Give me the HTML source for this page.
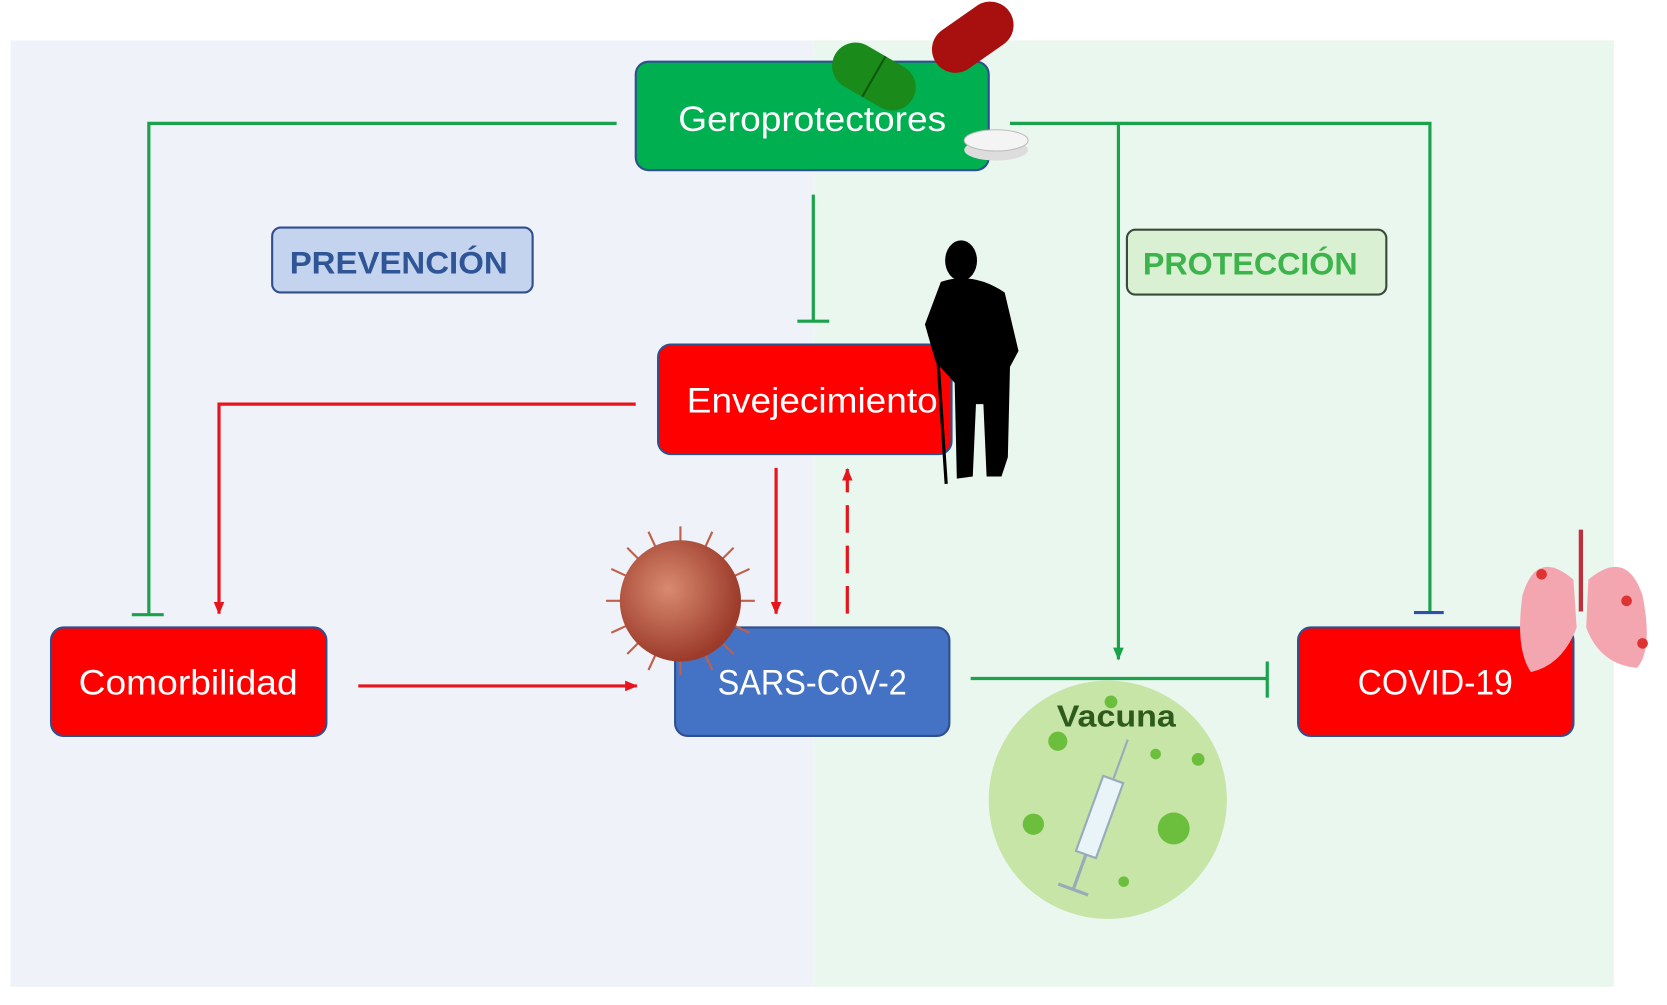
<!DOCTYPE html>
<html><head><meta charset="utf-8"><style>
html,body{margin:0;padding:0;background:#fff;}
svg{display:block;}
text{font-family:"Liberation Sans",sans-serif;}
</style></head><body>
<svg width="1667" height="1005" viewBox="0 0 1568 945" preserveAspectRatio="none" xmlns="http://www.w3.org/2000/svg">
<defs>
<marker id="ar" markerWidth="12" markerHeight="12" refX="11" refY="6" orient="auto" markerUnits="userSpaceOnUse"><path d="M0,1 L12,6 L0,11 z" fill="#e8141b"/></marker>
<marker id="ag" markerWidth="12" markerHeight="12" refX="11" refY="6" orient="auto" markerUnits="userSpaceOnUse"><path d="M0,1 L12,6 L0,11 z" fill="#1aa34a"/></marker>
<radialGradient id="vg" cx="0.4" cy="0.4" r="0.6"><stop offset="0" stop-color="#d98a70"/><stop offset="1" stop-color="#9c3b2a"/></radialGradient>
</defs>
<rect x="0" y="0" width="1568" height="945" fill="#fff"/>
<rect x="10" y="38" width="755" height="890" fill="#eff2f9"/>
<rect x="765" y="38" width="753" height="890" fill="#eaf7ee"/>

<g stroke="#1aa34a" stroke-width="3" fill="none">
<polyline points="580,116 140,116 140,578"/>
<line x1="124" y1="578" x2="154" y2="578"/>
<polyline points="950,116 1345,116 1345,575"/>
<line x1="765" y1="183" x2="765" y2="302"/>
<line x1="750" y1="302" x2="780" y2="302"/>
<line x1="1052" y1="116" x2="1052" y2="620" marker-end="url(#ag)"/>
<line x1="913" y1="638" x2="1192" y2="638"/>
<line x1="1192" y1="622" x2="1192" y2="656"/>
</g>
<line x1="1330" y1="576" x2="1358" y2="576" stroke="#2f4fa8" stroke-width="3"/>

<g stroke="#e8141b" stroke-width="3" fill="none">
<polyline points="598,380 206,380 206,577" marker-end="url(#ar)"/>
<line x1="730" y1="440" x2="730" y2="577" marker-end="url(#ar)"/>
<line x1="797" y1="577" x2="797" y2="441" stroke-dasharray="26,12" marker-end="url(#ar)"/>
<line x1="337" y1="645" x2="599" y2="645" marker-end="url(#ar)"/>
</g>

<rect x="598" y="58" width="332" height="102" rx="12" fill="#00b050" stroke="#2f4f8f" stroke-width="2"/>
<text x="764" y="123" font-size="33" fill="#fff" text-anchor="middle" textLength="252" lengthAdjust="spacingAndGlyphs">Geroprotectores</text>

<rect x="256" y="214" width="245" height="61" rx="8" fill="#c5d4ee" stroke="#2f4f8f" stroke-width="2"/>
<text x="375" y="257" font-size="30" font-weight="bold" fill="#2f5597" text-anchor="middle" textLength="205" lengthAdjust="spacingAndGlyphs">PREVENCIÓN</text>
<rect x="1060" y="216" width="244" height="61" rx="8" fill="#d9f0d3" stroke="#3a4a3a" stroke-width="2"/>
<text x="1176" y="258" font-size="30" font-weight="bold" fill="#3cb44b" text-anchor="middle" textLength="202" lengthAdjust="spacingAndGlyphs">PROTECCIÓN</text>

<rect x="619" y="324" width="276" height="103" rx="12" fill="#ff0000" stroke="#2f4f8f" stroke-width="2"/>
<text x="764" y="388" font-size="33" fill="#fff" text-anchor="middle" textLength="236" lengthAdjust="spacingAndGlyphs">Envejecimiento</text>

<rect x="48" y="590" width="259" height="102" rx="12" fill="#ff0000" stroke="#2f4f8f" stroke-width="2"/>
<text x="177" y="653" font-size="33" fill="#fff" text-anchor="middle" textLength="206" lengthAdjust="spacingAndGlyphs">Comorbilidad</text>
<rect x="635" y="590" width="258" height="102" rx="12" fill="#4472c4" stroke="#2f4f8f" stroke-width="2"/>
<text x="764" y="653" font-size="33" fill="#fff" text-anchor="middle" textLength="178" lengthAdjust="spacingAndGlyphs">SARS-CoV-2</text>
<rect x="1221" y="590" width="259" height="102" rx="12" fill="#ff0000" stroke="#2f4f8f" stroke-width="2"/>
<text x="1350" y="653" font-size="33" fill="#fff" text-anchor="middle" textLength="146" lengthAdjust="spacingAndGlyphs">COVID-19</text>

<g transform="rotate(30 822 72)"><rect x="780" y="50" width="84" height="44" rx="22" fill="#1a8a1a"/><line x1="822" y1="50" x2="822" y2="94" stroke="#0d5a0d" stroke-width="2"/></g>
<g transform="rotate(-35 915 35)"><rect x="873" y="13" width="84" height="44" rx="22" fill="#a81010"/></g>
<ellipse cx="937" cy="141" rx="30" ry="10" fill="#ddd"/>
<ellipse cx="937" cy="132" rx="30" ry="10" fill="#f4f4f4" stroke="#bbb"/>

<g fill="#000">
<ellipse cx="904" cy="245" rx="15" ry="19"/>
<path d="M885,265 Q915,255 945,275 L958,330 L950,345 L948,430 L942,448 L928,448 L925,380 L918,380 L915,448 L900,450 L898,360 L880,340 L870,305 Z"/>
<line x1="882" y1="335" x2="890" y2="455" stroke="#000" stroke-width="3"/>
</g>

<g stroke="#c0604a" stroke-width="2">
<line x1="640" y1="495" x2="640" y2="635"/><line x1="570" y1="565" x2="710" y2="565"/>
<line x1="590" y1="515" x2="690" y2="615"/><line x1="690" y1="515" x2="590" y2="615"/>
<line x1="610" y1="500" x2="670" y2="630"/><line x1="670" y1="500" x2="610" y2="630"/>
<line x1="575" y1="535" x2="705" y2="595"/><line x1="575" y1="595" x2="705" y2="535"/>
</g>
<circle cx="640" cy="565" r="57" fill="url(#vg)"/>

<line x1="1487" y1="498" x2="1487" y2="575" stroke="#c0303a" stroke-width="4"/>
<path d="M1480,545 Q1445,515 1432,560 Q1425,610 1440,632 Q1470,625 1483,590 Z" fill="#f4a6b0"/>
<path d="M1494,545 Q1530,515 1545,560 Q1555,610 1540,628 Q1505,625 1492,590 Z" fill="#f4a6b0"/>
<circle cx="1450" cy="540" r="5" fill="#d33"/><circle cx="1530" cy="565" r="5" fill="#d33"/><circle cx="1545" cy="605" r="5" fill="#d33"/>

<circle cx="1042" cy="752" r="112" fill="#c6e5a6"/>
<g fill="#6cbf3c"><circle cx="995" cy="697" r="9"/><circle cx="972" cy="775" r="10"/><circle cx="1104" cy="779" r="15"/><circle cx="1087" cy="709" r="5"/><circle cx="1127" cy="714" r="6"/><circle cx="1057" cy="829" r="5"/><circle cx="1045" cy="660" r="6"/></g>
<g transform="rotate(20 1030 780)"><rect x="1020" y="730" width="20" height="75" fill="#e8f4f8" stroke="#9ab" stroke-width="2"/><line x1="1030" y1="805" x2="1030" y2="840" stroke="#9ab" stroke-width="3"/><line x1="1015" y1="840" x2="1045" y2="840" stroke="#9ab" stroke-width="3"/><line x1="1030" y1="730" x2="1030" y2="690" stroke="#9ab" stroke-width="2"/></g>
<text x="1050" y="683" font-size="29" font-weight="bold" fill="#2e5a1c" text-anchor="middle" textLength="112" lengthAdjust="spacingAndGlyphs">Vacuna</text>
</svg>
</body></html>
